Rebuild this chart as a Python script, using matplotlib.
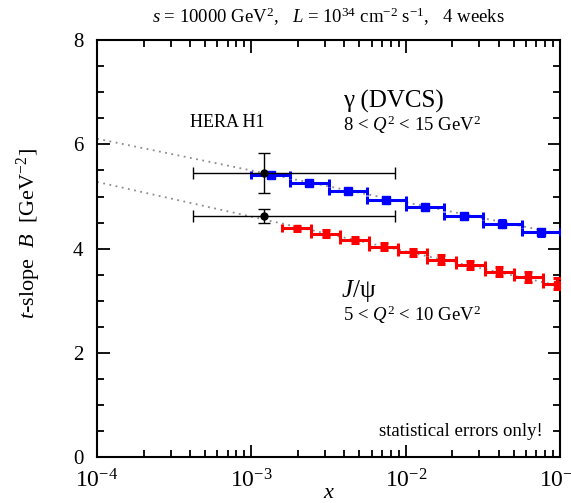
import numpy as np
import matplotlib
matplotlib.use("Agg")
import matplotlib.pyplot as plt
from matplotlib.ticker import FixedLocator, MultipleLocator, FixedFormatter, NullFormatter

plt.rcParams['font.family'] = ['Liberation Serif', 'DejaVu Serif']
plt.rcParams['mathtext.fontset'] = 'custom'
plt.rcParams['mathtext.rm'] = 'Liberation Serif'
plt.rcParams['mathtext.it'] = 'Liberation Serif:italic'
plt.rcParams['mathtext.bf'] = 'Liberation Serif:bold'

# ---- data ----
dvcs_edges_log = [-3.0, -2.75, -2.5, -2.25, -2.0, -1.75, -1.5, -1.25, -1.0]
dvcs_B = [5.42, 5.25, 5.10, 4.94, 4.79, 4.62, 4.48, 4.31]
dvcs_err = [0.03, 0.03, 0.03, 0.04, 0.04, 0.05, 0.06, 0.07]

jpsi_edges_log = [-2.8, -2.6125, -2.425, -2.2375, -2.05, -1.8625, -1.675, -1.4875,
                  -1.3, -1.1125, -0.925]
jpsi_B = [4.39, 4.29, 4.16, 4.04, 3.93, 3.79, 3.68, 3.56, 3.45, 3.33]
jpsi_err = [0.05, 0.06, 0.06, 0.07, 0.07, 0.08, 0.08, 0.09, 0.10, 0.10]

h1_x = [1.2e-3, 1.2e-3]
h1_xlo = [4.2e-4, 4.2e-4]
h1_xhi = [8.5e-3, 8.5e-3]
h1_B = [5.45, 4.63]
h1_Berr = [0.38, 0.13]

fit_x = [1e-4, 1e-1]
fit_dvcs = [6.11, 4.28]
fit_jpsi = [5.28, 3.28]

xtick_vals = [1e-4, 1e-3, 1e-2, 1e-1]
xtick_labels = [r'$10^{-4}$', r'$10^{-3}$', r'$10^{-2}$', r'$10^{-1}$']

# ---- figure ----
fig = plt.figure(figsize=(5.71, 5.03), dpi=100)
ax = fig.add_axes([0.170, 0.0915, 0.811, 0.8285])
ax.set_xscale('log')
ax.set_xlim(1e-4, 1e-1)
ax.set_ylim(0, 8)

# fit lines
ax.plot(fit_x, fit_dvcs, linestyle=(0, (1, 2.5)), color='0.55', lw=1.3, zorder=2)
ax.plot(fit_x, fit_jpsi, linestyle=(0, (1, 2.5)), color='0.55', lw=1.3, zorder=2)

def binned(edges_log, B, err, color, ms):
    e = np.array(edges_log)
    lo = 10 ** e[:-1]
    hi = 10 ** e[1:]
    c = 10 ** ((e[:-1] + e[1:]) / 2)
    ax.errorbar(c, B, xerr=[c - lo, hi - c], yerr=err, fmt='s', color=color,
                ms=ms, lw=2.2, capsize=3.2, capthick=2.2, elinewidth=2.2, zorder=3)

binned(dvcs_edges_log, dvcs_B, dvcs_err, '#0000ff', 6)
binned(jpsi_edges_log, jpsi_B, jpsi_err, '#ff0000', 4.5)

hx = np.array(h1_x)
ax.errorbar(hx, h1_B, xerr=[hx - np.array(h1_xlo), np.array(h1_xhi) - hx], yerr=h1_Berr,
            fmt='o', color='black', ms=5, lw=1.0, capsize=4, capthick=1.0, zorder=4)

# ticks
ax.xaxis.set_major_locator(FixedLocator(xtick_vals))
ax.xaxis.set_major_formatter(FixedFormatter(xtick_labels))
minor = [m * 10.0 ** d for d in (-4, -3, -2) for m in range(2, 10)]
ax.xaxis.set_minor_locator(FixedLocator(minor))
ax.xaxis.set_minor_formatter(NullFormatter())
ax.yaxis.set_major_locator(MultipleLocator(2))
ax.yaxis.set_minor_locator(MultipleLocator(0.5))
ax.tick_params(which='both', direction='in', top=True, right=True, width=1.3)
ax.tick_params(which='major', length=9)
ax.tick_params(which='minor', length=5)
ax.tick_params(axis='x', pad=9, labelsize=17)
ax.tick_params(axis='y', pad=10, labelsize=15)
for s in ax.spines.values():
    s.set_linewidth(1.5)

ax.set_xlabel(r'$x$', fontsize=16, labelpad=-6)
ax.set_ylabel(r'$t$-slope  $B$  [GeV$^{-2}$]', fontsize=16)
ax.yaxis.set_label_coords(-0.117, 0.535)
ax.set_title(r'$s$ = 10000 GeV$^{2}$,   $L$ = 10$^{34}$ cm$^{-2}$ s$^{-1}$,   4 weeks',
             fontsize=13.5, pad=12)

ax.text(4.0e-4, 6.42, 'HERA H1', fontsize=13, ha='left', va='center')
ax.text(3.9e-3, 6.83, 'γ (DVCS)', fontsize=18, ha='left', va='center')
ax.text(3.9e-3, 6.38, r'8 < $Q^{2}$ < 15 GeV$^{2}$', fontsize=13.5, ha='left', va='center')
ax.text(3.8e-3, 3.19, r'$J$/ψ', fontsize=18, ha='left', va='center')
ax.text(3.9e-3, 2.72, r'5 < $Q^{2}$ < 10 GeV$^{2}$', fontsize=13.5, ha='left', va='center')
ax.text(0.0766, 0.48, 'statistical errors only!', fontsize=13.5, ha='right', va='center')

fig.savefig('out.png', dpi=100)
